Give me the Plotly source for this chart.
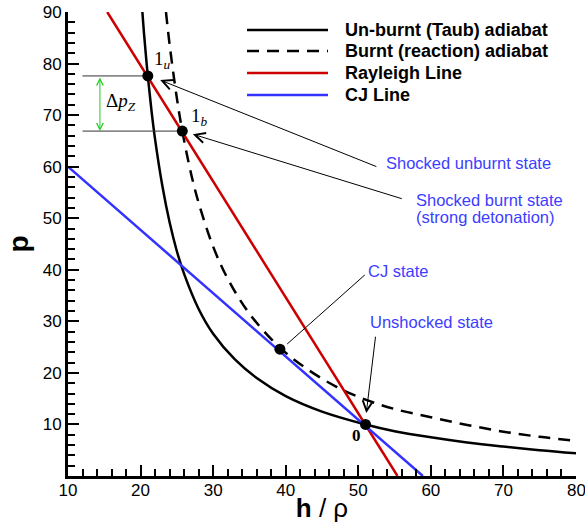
import plotly.graph_objects as go

# ---- data ----
unburnt_x = [20.25, 20.5, 21.0, 21.5, 22.0, 23.0, 24.0, 25.0, 26.0, 28.0, 30.0, 33.0, 36.0, 40.0, 45.0, 51.0, 55.0, 60.0, 65.0, 70.0, 75.0, 80.0]
unburnt_y = [90.0, 85.4, 77.5, 70.9, 65.3, 56.3, 49.2, 43.6, 39.2, 32.4, 27.6, 22.6, 19.0, 15.5, 12.5, 10.0, 8.7, 7.5, 6.5, 5.7, 5.0, 4.4]

burnt_x = [23.5, 24.0, 25.0, 25.75, 27.0, 28.0, 30.0, 32.0, 35.0, 39.2, 43.0, 47.0, 51.0, 55.0, 60.0, 65.0, 70.0, 75.0, 80.0]
burnt_y = [90.0, 83.7, 73.3, 66.9, 58.4, 53.0, 44.5, 38.3, 31.5, 24.9, 20.7, 17.3, 14.8, 13.0, 11.4, 9.9, 8.6, 7.6, 6.8]

rayleigh_x = [15.4, 55.4]
rayleigh_y = [90.0, 0.0]

cj_x = [10.0, 58.9]
cj_y = [60.0, 0.0]

state_names = ["0", "1u", "1b", "CJ"]
state_x = [51.0, 21.0, 25.75, 39.2]
state_y = [10.0, 77.6, 66.9, 24.6]

guide_start_x = 12.0
dpz_x = 14.4

# pointer arrows: tail -> tip
pointer_tail_x = [52.7, 56.2, 52.4]
pointer_tail_y = [59.9, 53.7, 27.3]
pointer_tip_x = [22.7, 27.2, 51.1]
pointer_tip_y = [76.8, 66.3, 12.2]
cj_leader_x = [50.9, 40.2]
cj_leader_y = [39.0, 25.6]

x_ticks = [10, 20, 30, 40, 50, 60, 70, 80]
y_ticks = [10, 20, 30, 40, 50, 60, 70, 80, 90]

series_names = ["Un-burnt (Taub) adiabat", "Burnt (reaction) adiabat", "Rayleigh Line", "CJ Line"]
series_colors = ["black", "black", "#cc0000", "#3333ff"]
series_dash = ["solid", "12px,8px", "solid", "solid"]

TXT_BLUE = "#3d3dff"
SANS = "Liberation Sans"
SERIF = "Liberation Serif"

fig = go.Figure()

curves = [(unburnt_x, unburnt_y, "spline"), (burnt_x, burnt_y, "spline"),
          (rayleigh_x, rayleigh_y, "linear"), (cj_x, cj_y, "linear")]
for (cx, cy, shape), nm, col, dsh in zip(curves, series_names, series_colors, series_dash):
    fig.add_trace(go.Scatter(x=cx, y=cy, mode="lines", line_shape=shape, name=nm,
                             line=dict(color=col, width=2.5, dash=dsh), showlegend=False))

# horizontal guide lines at states 1u and 1b
for i in (1, 2):
    fig.add_trace(go.Scatter(x=[guide_start_x, state_x[i]], y=[state_y[i], state_y[i]], mode="lines",
                             line=dict(color="#333333", width=1), showlegend=False, hoverinfo="skip"))

# CJ leader line (no head)
fig.add_trace(go.Scatter(x=cj_leader_x, y=cj_leader_y, mode="lines", line=dict(color="black", width=1),
                         showlegend=False, hoverinfo="skip"))

fig.add_trace(go.Scatter(x=state_x, y=state_y, mode="markers", text=state_names,
                         marker=dict(color="black", size=11), showlegend=False))

shapes = []
ann = []

# green double arrow (delta p_Z)
ann.append(dict(x=dpz_x, y=state_y[2], ax=dpz_x, ay=state_y[1], xref="x", yref="y", axref="x", ayref="y",
                text="", showarrow=True, arrowhead=5, startarrowhead=5, arrowside="end+start",
                arrowsize=1.3, startarrowsize=1.3, arrowwidth=1, arrowcolor="#22cc22",
                standoff=0, startstandoff=0))
# pointer arrows
for tx, ty, hx, hy in zip(pointer_tail_x, pointer_tail_y, pointer_tip_x, pointer_tip_y):
    ann.append(dict(x=hx, y=hy, ax=tx, ay=ty, xref="x", yref="y", axref="x", ayref="y",
                    text="", showarrow=True, arrowhead=5, arrowsize=2.0, arrowwidth=1,
                    arrowcolor="black", standoff=0, startstandoff=0))

# manual legend (line samples + bold names)
leg_rows = [0.9612, 0.9159, 0.8685, 0.8211]
for nm, col, dsh, yy in zip(series_names, series_colors, series_dash, leg_rows):
    shapes.append(dict(type="line", xref="paper", yref="paper", x0=0.3524, x1=0.5118, y0=yy, y1=yy,
                       line=dict(color=col, width=2.5, dash=dsh)))
    ann.append(dict(xref="paper", yref="paper", x=0.5413, y=yy, text="<b>" + nm + "</b>",
                    xanchor="left", yanchor="middle", showarrow=False,
                    font=dict(family=SANS, size=18, color="black")))

# point labels
ann.append(dict(x=21.6, y=80.6, text="1<sub><i>u</i></sub>", xanchor="left", yanchor="middle",
                showarrow=False, font=dict(family=SERIF, size=19, color="black")))
ann.append(dict(x=26.7, y=69.6, text="1<sub><i>b</i></sub>", xanchor="left", yanchor="middle",
                showarrow=False, font=dict(family=SERIF, size=19, color="black")))
ann.append(dict(x=49.8, y=7.8, text="<b>0</b>", xanchor="center", yanchor="middle",
                showarrow=False, font=dict(family=SERIF, size=17, color="black")))
ann.append(dict(x=14.9, y=72.6, text="Δ<i>p</i><sub><i>Z</i></sub>", xanchor="left", yanchor="middle",
                showarrow=False, font=dict(family=SERIF, size=19, color="black")))

# state descriptions
desc = [(53.5, 60.7, "Shocked unburnt state"), (57.7, 53.6, "Shocked burnt state"),
        (57.7, 50.3, "(strong detonation)"), (51.1, 39.8, "CJ state"), (51.3, 29.9, "Unshocked state")]
for dx, dy, t in desc:
    ann.append(dict(x=dx, y=dy, text=t, xanchor="left", yanchor="middle", showarrow=False,
                    font=dict(family=SANS, size=16.5, color=TXT_BLUE)))

# last x tick label (partly beyond the right edge in the reference)
ann.append(dict(x=x_ticks[-1], xref="x", y=0, yref="y", text=str(x_ticks[-1]), xanchor="center",
                yanchor="middle", yshift=-14, showarrow=False, font=dict(family=SANS, size=17, color="black")))

fig.update_layout(
    width=585, height=528,
    margin=dict(l=68, r=9, t=12, b=52),
    plot_bgcolor="white", paper_bgcolor="white",
    font=dict(family=SANS, size=17, color="black"),
    annotations=ann, shapes=shapes,
    showlegend=False,
)

fig.update_xaxes(range=[10, 80], tickvals=x_ticks[:-1], ticks="inside", ticklen=11, tickwidth=2,
                 tickcolor="black", showline=True, linewidth=3, linecolor="black", showgrid=False,
                 zeroline=False, mirror=False, tickfont=dict(size=17), automargin=False,
                 ticklabelstandoff=-3,
                 minor=dict(dtick=2, ticks="inside", ticklen=7, tickwidth=1.5, tickcolor="black", showgrid=False),
                 title=dict(text="<b>h</b> / ρ", font=dict(size=26), standoff=0))
fig.update_yaxes(range=[0, 90], tickvals=y_ticks, ticks="inside", ticklen=11, tickwidth=2,
                 tickcolor="black", showline=True, linewidth=3, linecolor="black", showgrid=False,
                 zeroline=False, mirror=False, tickfont=dict(size=17), automargin=False,
                 minor=dict(dtick=2, ticks="inside", ticklen=7, tickwidth=1.5, tickcolor="black", showgrid=False),
                 title=dict(text="<b>p</b>", font=dict(size=28), standoff=6))

fig.write_html("out.html")
